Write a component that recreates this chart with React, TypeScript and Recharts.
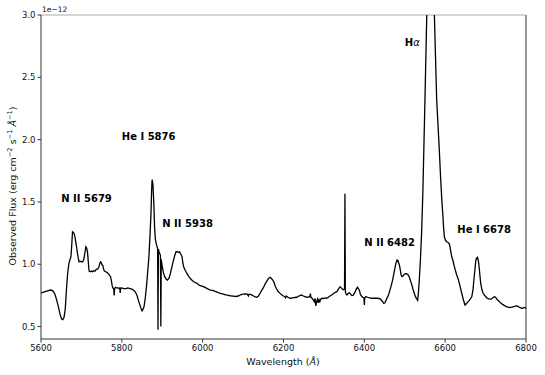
import React from 'react';
import { LineChart, Line, XAxis, YAxis, ReferenceDot, ReferenceLine } from 'recharts';

const wavelengths: number[] = [
  5600, 5605, 5610, 5615, 5620, 5625, 5628, 5631, 5635, 5639, 5643, 5647, 5651, 5654, 5657, 5660, 5663, 5666, 5669, 5672,
  5674, 5676, 5678, 5680, 5682, 5684, 5686, 5688, 5691, 5694, 5697, 5700, 5703, 5706, 5709, 5711, 5713, 5715, 5717, 5719,
  5722, 5725, 5728, 5731, 5734, 5737, 5740, 5743, 5745, 5747, 5749, 5751, 5753, 5755, 5757, 5760, 5763, 5766, 5769, 5772,
  5774, 5776, 5778, 5780, 5781, 5782, 5784, 5787, 5790, 5793, 5795, 5796, 5797, 5800, 5805, 5810, 5815, 5820, 5825, 5830,
  5834, 5838, 5841, 5845, 5848, 5850, 5852, 5855, 5858, 5861, 5864, 5867, 5870, 5872, 5874, 5875, 5876, 5877, 5879, 5881,
  5883, 5885, 5887, 5888.5, 5889.5, 5890.5, 5892, 5894, 5895.5, 5896.5, 5897.5, 5900, 5903, 5906, 5910, 5913, 5917, 5920, 5924, 5928,
  5931, 5934, 5937, 5940, 5943, 5946, 5949, 5951, 5953, 5957, 5961, 5965, 5969, 5974, 5980, 5986, 5992, 5998, 6002, 6008,
  6014, 6019, 6025, 6031, 6037, 6043, 6049, 6055, 6061, 6068, 6075, 6082, 6088, 6094, 6100, 6105, 6110, 6113, 6114, 6118,
  6122, 6126, 6130, 6134, 6138, 6142, 6146, 6150, 6155, 6160, 6164, 6167, 6170, 6173, 6176, 6179, 6182, 6186, 6190, 6194,
  6198, 6200, 6203, 6205, 6207, 6211, 6216, 6222, 6228, 6233, 6238, 6242, 6245, 6249, 6253, 6258, 6262, 6265, 6266.5, 6268,
  6271, 6274, 6276, 6278, 6280, 6282, 6284, 6286, 6288, 6290, 6292, 6295, 6299, 6303, 6307, 6311, 6315, 6319, 6324, 6328,
  6332, 6336, 6340, 6343, 6347, 6350, 6351, 6352, 6353, 6355, 6357, 6360, 6363, 6366, 6369, 6372, 6376, 6380, 6383, 6386,
  6388, 6390, 6393, 6396, 6399, 6400, 6401, 6404, 6408, 6413, 6418, 6422, 6427, 6432, 6436, 6440, 6444, 6448, 6451, 6455,
  6460, 6465, 6470, 6474, 6478, 6481, 6483, 6485, 6487, 6489, 6491, 6493, 6496, 6499, 6502, 6505, 6508, 6511, 6514, 6517,
  6521, 6525, 6528, 6530, 6532, 6534, 6536, 6539, 6542, 6545, 6550, 6554.5, 6562.5, 6573.3, 6579, 6585, 6589, 6592, 6594, 6596,
  6598, 6601, 6604, 6607, 6610, 6612, 6614, 6617, 6619, 6622, 6624, 6628, 6633, 6637, 6641, 6645, 6649, 6653, 6657, 6662,
  6666, 6669, 6671, 6674, 6676, 6678, 6680, 6682, 6684, 6686, 6688, 6691, 6694, 6699, 6704, 6709, 6713, 6716, 6720, 6723,
  6726, 6729, 6732, 6737, 6741, 6745, 6750, 6755, 6760, 6765, 6770, 6775, 6779, 6783, 6787, 6790, 6794, 6798, 6800,
];

const flux: number[] = [
  0.77, 0.775, 0.78, 0.785, 0.79, 0.793, 0.788, 0.78, 0.755, 0.71, 0.66, 0.6, 0.56, 0.555, 0.575, 0.64, 0.8, 0.93, 1.005, 1.04,
  1.06, 1.15, 1.26, 1.255, 1.245, 1.22, 1.18, 1.14, 1.07, 1.02, 1.025, 1.02, 1.02, 1.04, 1.1, 1.14, 1.13, 1.1, 1.02, 0.945,
  0.94, 0.945, 0.94, 0.95, 0.945, 0.96, 0.96, 0.975, 1.0, 1.02, 1.015, 0.995, 0.99, 0.96, 0.945, 0.94, 0.935, 0.925, 0.915, 0.9,
  0.87, 0.83, 0.81, 0.8, 0.75, 0.8, 0.815, 0.81, 0.81, 0.805, 0.81, 0.77, 0.805, 0.81, 0.805, 0.805, 0.81, 0.805, 0.8, 0.79,
  0.775, 0.745, 0.71, 0.67, 0.64, 0.625, 0.635, 0.66, 0.73, 0.82, 0.94, 1.06, 1.25, 1.4, 1.62, 1.68, 1.66, 1.64, 1.5, 1.3,
  1.2, 1.17, 1.14, 1.13, 0.475, 1.12, 1.1, 1.085, 1.07, 0.5, 1.04, 0.98, 0.93, 0.9, 0.88, 0.873, 0.89, 0.925, 0.98, 1.035,
  1.07, 1.1, 1.1, 1.095, 1.1, 1.08, 1.06, 1.01, 0.98, 0.95, 0.927, 0.905, 0.887, 0.87, 0.855, 0.847, 0.83, 0.825, 0.82, 0.81,
  0.8, 0.793, 0.79, 0.782, 0.775, 0.767, 0.762, 0.757, 0.752, 0.747, 0.744, 0.741, 0.745, 0.755, 0.76, 0.762, 0.76, 0.745, 0.758, 0.758,
  0.752, 0.745, 0.738, 0.735, 0.745, 0.767, 0.79, 0.81, 0.845, 0.87, 0.89, 0.895, 0.885, 0.875, 0.86, 0.83, 0.807, 0.785, 0.77, 0.76,
  0.748, 0.745, 0.74, 0.73, 0.745, 0.735, 0.727, 0.73, 0.733, 0.735, 0.745, 0.75, 0.753, 0.745, 0.74, 0.734, 0.738, 0.74, 0.765, 0.735,
  0.725, 0.713, 0.7, 0.725, 0.665, 0.7, 0.72, 0.69, 0.715, 0.7, 0.72, 0.727, 0.725, 0.73, 0.727, 0.735, 0.745, 0.753, 0.765, 0.775,
  0.78, 0.8, 0.82, 0.81, 0.795, 0.8, 0.8, 1.565, 0.78, 0.76, 0.753, 0.765, 0.77, 0.76, 0.748, 0.75, 0.77, 0.8, 0.815, 0.8,
  0.79, 0.76, 0.745, 0.735, 0.73, 0.673, 0.73, 0.74, 0.735, 0.73, 0.727, 0.727, 0.728, 0.727, 0.725, 0.72, 0.705, 0.685, 0.69, 0.72,
  0.755, 0.81, 0.873, 0.94, 1.007, 1.034, 1.03, 1.01, 0.99, 0.955, 0.915, 0.9, 0.905, 0.92, 0.925, 0.922, 0.915, 0.9, 0.87, 0.84,
  0.793, 0.753, 0.73, 0.72, 0.71, 0.78, 0.873, 1.05, 1.274, 1.6, 2.32, 3.0, 4.25, 3.0, 2.32, 1.95, 1.676, 1.5, 1.409, 1.3,
  1.22, 1.19, 1.18, 1.175, 1.165, 1.14, 1.1, 1.05, 1.034, 0.99, 0.967, 0.92, 0.873, 0.82, 0.767, 0.715, 0.673, 0.685, 0.7, 0.72,
  0.74, 0.8, 0.873, 0.97, 1.034, 1.05, 1.055, 1.03, 0.98, 0.91, 0.847, 0.795, 0.767, 0.745, 0.727, 0.72, 0.72, 0.725, 0.737, 0.74,
  0.73, 0.715, 0.707, 0.69, 0.68, 0.672, 0.662, 0.656, 0.653, 0.655, 0.66, 0.665, 0.663, 0.655, 0.65, 0.647, 0.65, 0.653, 0.645,
];

const xTicks: number[] = [5600, 5800, 6000, 6200, 6400, 6600, 6800];
const yTicks: number[] = [0.5, 1.0, 1.5, 2.0, 2.5, 3.0];

const annotationText: string[] = ['N II 5679', 'He I 5876', 'N II 5938', 'Hα', 'N II 6482', 'He I 6678'];
const annotationX: number[] = [5650, 5800, 5900, 6500, 6400, 6630];
const annotationY: number[] = [1.5, 2.0, 1.3, 2.75, 1.15, 1.25];

const data = wavelengths.map((w, i) => ({ w, f: flux[i] }));

const FONT = 'DejaVu Sans';

const makeShape = (label: string) => (props: any) => {
  const { cx, cy } = props;
  if (label === 'Hα') {
    return (
      <text x={cx} y={cy} fontFamily={FONT} fontSize={10} fill="#000">
        <tspan fontWeight="bold">H</tspan>
        <tspan fontStyle="italic">α</tspan>
      </text>
    );
  }
  return (
    <text x={cx} y={cy} fontFamily={FONT} fontSize={10} fontWeight="bold" fill="#000">
      {label}
    </text>
  );
};

export default function App() {
  return (
    <div style={{ position: 'absolute', left: 0, top: 0, width: 545, height: 375, background: '#fff' }}>
      <LineChart
        width={545}
        height={375}
        data={data}
        margin={{ top: 15, right: 19, bottom: 0, left: 0 }}
      >
        <XAxis
          dataKey="w"
          type="number"
          domain={[5600, 6800]}
          ticks={xTicks}
          allowDataOverflow
          height={36}
          tickSize={3.5}
          tickMargin={2}
          stroke="#333"
          tick={{ fontSize: 8.5, fill: '#111', fontFamily: FONT }}
        />
        <YAxis
          type="number"
          domain={[0.4, 3.0]}
          ticks={yTicks}
          allowDataOverflow
          width={41}
          tickSize={3.5}
          tickMargin={2}
          stroke="#333"
          tickFormatter={(v: number) => v.toFixed(1)}
          tick={{ fontSize: 8.5, fill: '#111', fontFamily: FONT }}
        />
        <ReferenceLine y={3.0} stroke="#aaa" strokeWidth={1} />
        <ReferenceLine x={6800} stroke="#999" strokeWidth={2} />
        <Line
          type="linear"
          dataKey="f"
          stroke="#000"
          strokeWidth={1.3}
          dot={false}
          isAnimationActive={false}
        />
        {annotationText.map((t, i) => (
          <ReferenceDot
            key={t}
            x={annotationX[i]}
            y={annotationY[i]}
            r={0}
            shape={makeShape(t)}
          />
        ))}
      </LineChart>
      <svg
        width={545}
        height={375}
        style={{ position: 'absolute', left: 0, top: 0, pointerEvents: 'none' }}
      >
        <text x={42} y={12} fontFamily={FONT} fontSize={7.5} fill="#111">1e−12</text>
        <text x={283} y={365} textAnchor="middle" fontFamily={FONT} fontSize={9.5} fill="#111">
          Wavelength (<tspan fontStyle="italic">Å</tspan>)
        </text>
        <text
          transform="translate(16,186) rotate(-90)"
          textAnchor="middle"
          fontFamily={FONT}
          fontSize={9.5}
          fill="#111"
        >
          Observed Flux (erg cm
          <tspan dy={-4} fontSize={6.7}>−2</tspan>
          <tspan dy={4}> s</tspan>
          <tspan dy={-4} fontSize={6.7}>−1</tspan>
          <tspan dy={4}> </tspan>
          <tspan fontStyle="italic">Å</tspan>
          <tspan dy={-4} fontSize={6.7}>−1</tspan>
          <tspan dy={4}>)</tspan>
        </text>
      </svg>
    </div>
  );
}
